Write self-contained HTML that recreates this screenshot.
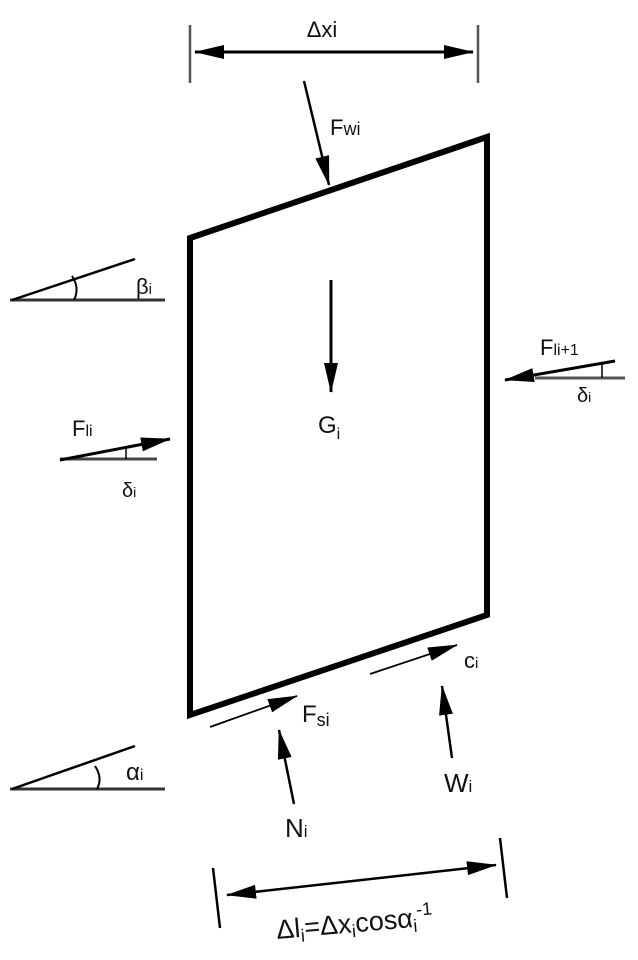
<!DOCTYPE html>
<html><head><meta charset="utf-8"><style>
html,body{margin:0;padding:0;background:#fff;}
svg{display:block;}
text{font-family:"Liberation Sans",sans-serif;fill:#111;}
</style></head><body>
<svg width="638" height="960" viewBox="0 0 638 960" xmlns="http://www.w3.org/2000/svg">
<defs>
<marker id="ahL" markerWidth="30" markerHeight="14" refX="29" refY="7" orient="auto" markerUnits="userSpaceOnUse" viewBox="0 0 30 14">
<path d="M0,0 L30,7 L0,14 Z" fill="#000"/></marker>
<marker id="ahLs" markerWidth="30" markerHeight="14" refX="1" refY="7" orient="auto" markerUnits="userSpaceOnUse" viewBox="0 0 30 14">
<path d="M30,0 L0,7 L30,14 Z" fill="#000"/></marker>
</defs>
<polygon points="190,238 487,137 487,615 190,715" fill="none" stroke="#000" stroke-width="6" stroke-linejoin="miter"/>
<line x1="190" y1="25" x2="190" y2="83" stroke="#555" stroke-width="2.5"/>
<line x1="478" y1="25" x2="478" y2="83" stroke="#555" stroke-width="2.5"/>
<line x1="195" y1="52" x2="473" y2="52" stroke="#000" stroke-width="3" marker-start="url(#ahLs)" marker-end="url(#ahL)"/>
<text x="322" y="37" font-size="22" text-anchor="middle">Δxi</text>
<line x1="304" y1="81" x2="329" y2="185" stroke="#000" stroke-width="2.5" marker-end="url(#ahL)"/>
<text x="330" y="135" font-size="22">F<tspan font-size="18">wi</tspan></text>
<line x1="10" y1="300" x2="165" y2="300" stroke="#333" stroke-width="3"/>
<line x1="12" y1="300" x2="135" y2="259" stroke="#000" stroke-width="2.5"/>
<path d="M72,276 Q80,288 74,300" fill="none" stroke="#000" stroke-width="2"/>
<text x="136" y="294" font-size="22">β<tspan font-size="15">i</tspan></text>
<line x1="331" y1="280" x2="331" y2="392" stroke="#000" stroke-width="3" marker-end="url(#ahL)"/>
<text x="318" y="433" font-size="24">G<tspan font-size="16" dy="6">i</tspan></text>
<line x1="535" y1="378" x2="625" y2="378" stroke="#555" stroke-width="3"/>
<line x1="615" y1="361" x2="505" y2="380" stroke="#000" stroke-width="3" marker-end="url(#ahL)"/>
<line x1="602" y1="364" x2="602" y2="378" stroke="#000" stroke-width="1.5"/>
<text x="540" y="355" font-size="22">F<tspan font-size="16">li+1</tspan></text>
<text x="577" y="402" font-size="20">δ<tspan font-size="14">i</tspan></text>
<line x1="60" y1="459" x2="157" y2="459" stroke="#444" stroke-width="3"/>
<line x1="60" y1="460" x2="170" y2="439" stroke="#000" stroke-width="3" marker-end="url(#ahL)"/>
<line x1="126" y1="448" x2="126" y2="459" stroke="#000" stroke-width="1.5"/>
<text x="72" y="436" font-size="22">F<tspan font-size="16">li</tspan></text>
<text x="122" y="497" font-size="20">δ<tspan font-size="14">i</tspan></text>
<line x1="210" y1="727" x2="297" y2="696" stroke="#000" stroke-width="1.8" marker-end="url(#ahL)"/>
<text x="302" y="722" font-size="24">F<tspan font-size="18" dy="4">si</tspan></text>
<line x1="370" y1="674" x2="457" y2="645" stroke="#000" stroke-width="1.8" marker-end="url(#ahL)"/>
<text x="464" y="668" font-size="22">c<tspan font-size="15">i</tspan></text>
<line x1="294" y1="804" x2="279" y2="730" stroke="#000" stroke-width="2.5" marker-end="url(#ahL)"/>
<text x="285" y="837" font-size="26">N<tspan font-size="17">i</tspan></text>
<line x1="452" y1="758" x2="442" y2="686" stroke="#000" stroke-width="2.5" marker-end="url(#ahL)"/>
<text x="444" y="792" font-size="26">W<tspan font-size="17">i</tspan></text>
<line x1="10" y1="789" x2="165" y2="789" stroke="#333" stroke-width="3"/>
<line x1="12" y1="789" x2="135" y2="746" stroke="#000" stroke-width="2.5"/>
<path d="M95,766 Q103,778 97,789" fill="none" stroke="#000" stroke-width="2"/>
<text x="126" y="780" font-size="24">α<tspan font-size="16">i</tspan></text>
<line x1="213" y1="868" x2="220" y2="928" stroke="#000" stroke-width="2.5"/>
<line x1="500" y1="838" x2="507" y2="898" stroke="#000" stroke-width="2.5"/>
<line x1="227" y1="895" x2="496" y2="865" stroke="#000" stroke-width="2.5" marker-start="url(#ahLs)" marker-end="url(#ahL)"/>
<text x="0" y="0" font-size="27" transform="translate(277,939) rotate(-5)">Δl<tspan font-size="18" dy="5">i</tspan><tspan dy="-5">=Δx</tspan><tspan font-size="18" dy="5">i</tspan><tspan dy="-5">cosα</tspan><tspan font-size="18" dy="5">i</tspan><tspan font-size="18" dy="-16">-1</tspan></text>
</svg>
</body></html>
